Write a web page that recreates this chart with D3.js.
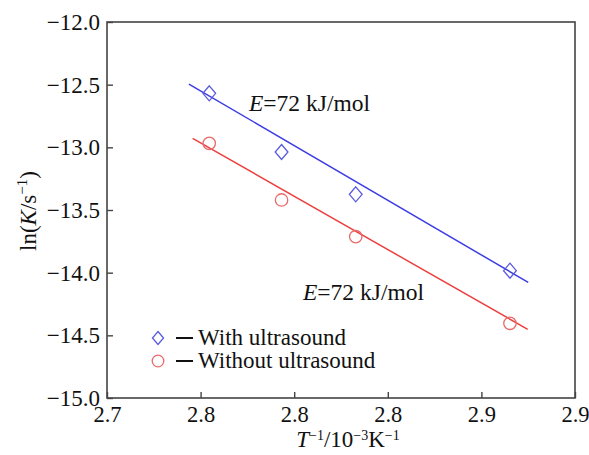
<!DOCTYPE html>
<html>
<head>
<meta charset="utf-8">
<script src="https://cdn.jsdelivr.net/npm/d3@7"></script>
<style>
  html, body { margin: 0; padding: 0; background: #fff; }
  svg { display: block; font-family: "Liberation Serif", "Times New Roman", serif; }
  svg text { font-family: "Liberation Serif", "Times New Roman", serif; }
</style>
</head>
<body>
<svg id="chart" width="589" height="455"></svg>
<script>
// Reciprocal temperature (10^-3 K^-1) of each run
const invT = [2.7637, 2.7946, 2.8263, 2.8922];
// ln(K/s^-1) measured with and without ultrasound
const withUltrasound = [-12.569, -13.037, -13.375, -13.984];
const withoutUltrasound = [-12.968, -13.420, -13.713, -14.404];
// Arrhenius fit lines (end points)
const fitWithX = [2.755, 2.900];
const fitWithY = [-12.495, -14.077];
const fitWithoutX = [2.7566, 2.8998];
const fitWithoutY = [-12.928, -14.452];
// Axis ticks and their printed labels
const xTicks = [2.72, 2.76, 2.80, 2.84, 2.88, 2.92];
const xTickLabels = ["2.7", "2.8", "2.8", "2.8", "2.9", "2.9"];
const yTicks = [-15.0, -14.5, -14.0, -13.5, -13.0, -12.5, -12.0];
const yTickLabels = ["\u221215.0", "\u221214.5", "\u221214.0", "\u221213.5", "\u221213.0", "\u221212.5", "\u221212.0"];

const blue = "#3c3ce4";
const red = "#ec4040";
const markBlue = "#5a5ae0";
const markRed = "#e86a6a";
const axisColor = "#444";

const svg = d3.select("#chart");
const m = { left: 107, right: 14, top: 22, bottom: 57 };
const W = 589, H = 455;

const x = d3.scaleLinear().domain([2.72, 2.92]).range([m.left, W - m.right]);
const y = d3.scaleLinear().domain([-15, -12]).range([H - m.bottom, m.top]);

// Frame
svg.append("rect")
  .attr("x", x(2.72)).attr("y", y(-12))
  .attr("width", x(2.92) - x(2.72)).attr("height", y(-15) - y(-12))
  .attr("fill", "none").attr("stroke", axisColor).attr("stroke-width", 1.6);

// Axes with inward ticks
const xAxis = d3.axisBottom(x).tickValues(xTicks)
  .tickFormat((d, i) => xTickLabels[i]).tickSizeInner(-6).tickSizeOuter(0).tickPadding(8);
const gx = svg.append("g").attr("transform", `translate(0,${y(-15)})`).call(xAxis);
gx.select(".domain").remove();
gx.selectAll(".tick line").attr("stroke", axisColor).attr("stroke-width", 1.4);
gx.selectAll(".tick text").attr("fill", "#111").style("font-size", "22.5px");

const yAxis = d3.axisLeft(y).tickValues(yTicks)
  .tickFormat((d, i) => yTickLabels[i]).tickSizeInner(-6).tickSizeOuter(0).tickPadding(7);
const gy = svg.append("g").attr("transform", `translate(${x(2.72)},0)`).call(yAxis);
gy.select(".domain").remove();
gy.selectAll(".tick line").attr("stroke", axisColor).attr("stroke-width", 1.4);
gy.selectAll(".tick text").attr("fill", "#111").style("font-size", "23px");

// Axis titles
const xt = svg.append("text")
  .attr("x", 348).attr("y", 447).attr("text-anchor", "middle")
  .attr("font-size", 23).attr("fill", "#111");
xt.append("tspan").attr("font-style", "italic").text("T");
xt.append("tspan").attr("font-size", 14).attr("dy", -7).text("\u22121");
xt.append("tspan").attr("dy", 7).text("/10");
xt.append("tspan").attr("font-size", 14).attr("dy", -7).text("\u22123");
xt.append("tspan").attr("dy", 7).text("K");
xt.append("tspan").attr("font-size", 14).attr("dy", -7).text("\u22121");

const yt = svg.append("text")
  .attr("transform", "translate(36,211) rotate(-90)")
  .attr("text-anchor", "middle").attr("font-size", 23).attr("fill", "#111");
yt.append("tspan").text("ln(");
yt.append("tspan").attr("font-style", "italic").text("K");
yt.append("tspan").text("/s");
yt.append("tspan").attr("font-size", 15).attr("dy", -9).text("\u22121");
yt.append("tspan").attr("dy", 9).text(")");

// Fit lines
const line = d3.line().x(d => x(d[0])).y(d => y(d[1]));
svg.append("path").datum(d3.zip(fitWithX, fitWithY))
  .attr("d", line).attr("fill", "none").attr("stroke", blue).attr("stroke-width", 1.5);
svg.append("path").datum(d3.zip(fitWithoutX, fitWithoutY))
  .attr("d", line).attr("fill", "none").attr("stroke", red).attr("stroke-width", 1.5);

// Markers
const diamond = (cx, cy, r) => `M${cx},${cy - r}L${cx + r * 0.85},${cy}L${cx},${cy + r}L${cx - r * 0.85},${cy}Z`;
svg.append("g").selectAll("path").data(d3.zip(invT, withUltrasound)).join("path")
  .attr("d", d => diamond(x(d[0]), y(d[1]), 7.5))
  .attr("fill", "none").attr("stroke", markBlue).attr("stroke-width", 1.3);
svg.append("g").selectAll("circle").data(d3.zip(invT, withoutUltrasound)).join("circle")
  .attr("cx", d => x(d[0])).attr("cy", d => y(d[1])).attr("r", 6.2)
  .attr("fill", "none").attr("stroke", markRed).attr("stroke-width", 1.3);

// Activation energy annotations
function energyLabel(px, py) {
  const t = svg.append("text").attr("x", px).attr("y", py)
    .attr("font-size", 23.5).attr("fill", "#111");
  t.append("tspan").attr("font-style", "italic").text("E");
  t.append("tspan").text("=72 kJ/mol");
}
energyLabel(249, 111);
energyLabel(303, 300);

// Legend
const legend = svg.append("g");
const legendItems = [
  { label: "With ultrasound", color: markBlue, shape: "diamond", yy: 338 },
  { label: "Without ultrasound", color: markRed, shape: "circle", yy: 361 }
];
legendItems.forEach(it => {
  if (it.shape === "diamond") {
    legend.append("path").attr("d", diamond(158, it.yy, 6.5))
      .attr("fill", "none").attr("stroke", it.color).attr("stroke-width", 1.3);
  } else {
    legend.append("circle").attr("cx", 158).attr("cy", it.yy).attr("r", 5.8)
      .attr("fill", "none").attr("stroke", it.color).attr("stroke-width", 1.3);
  }
  legend.append("line").attr("x1", 176).attr("x2", 193).attr("y1", it.yy).attr("y2", it.yy)
    .attr("stroke", "#111").attr("stroke-width", 2);
  legend.append("text").attr("x", 198).attr("y", it.yy + 7)
    .attr("font-size", 23).attr("fill", "#111").text(it.label);
});
</script>
</body>
</html>
